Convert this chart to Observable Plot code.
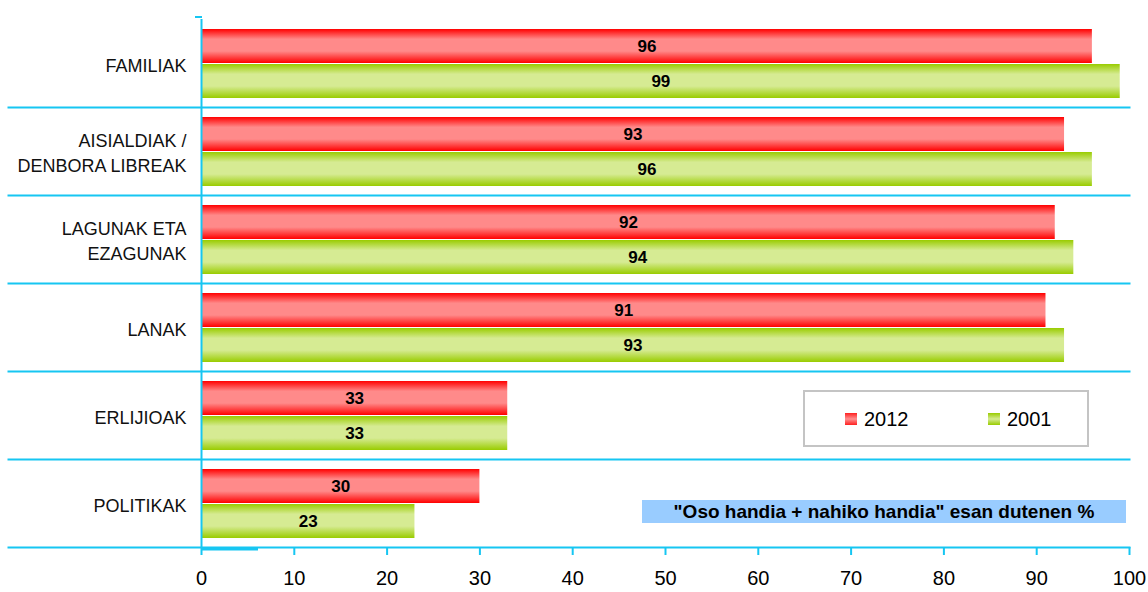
<!DOCTYPE html>
<html>
<head>
<meta charset="utf-8">
<script src="https://cdn.jsdelivr.net/npm/d3@7"></script>
<script src="https://cdn.jsdelivr.net/npm/@observablehq/plot@0.6"></script>
<style>
  html, body { margin: 0; padding: 0; background: #fff; }
  #wrap { position: relative; width: 1148px; height: 592px; font-family: "Liberation Sans", Arial, sans-serif; }
  .legend { position: absolute; left: 803px; top: 390px; width: 286px; height: 57px; box-sizing: border-box;
            border: 2px solid #c4c4c4; background: #fff; }
  .legend .item { position: absolute; top: 15px; height: 24px; font-size: 20px; line-height: 24px; color: #000; display: flex; align-items: center; }
  .legend .sw { width: 12px; height: 12px; margin-right: 7px; }
  .note { position: absolute; left: 642px; top: 500px; width: 484px; height: 23px; background: #99ccff;
          font-weight: bold; font-size: 19px; color: #000; text-align: center; line-height: 24px; white-space: nowrap; }
</style>
</head>
<body>
<div id="wrap"></div>
<script>
const categories = ["FAMILIAK", "AISIALDIAK /\nDENBORA LIBREAK", "LAGUNAK ETA\nEZAGUNAK", "LANAK", "ERLIJIOAK", "POLITIKAK"];
const years = ["2012", "2001"];
const values2012 = [96, 93, 92, 91, 33, 30];
const values2001 = [99, 96, 94, 93, 33, 23];
const xTicks = [0, 10, 20, 30, 40, 50, 60, 70, 80, 90, 100];
const noteText = "\"Oso handia + nahiko handia\" esan dutenen %";

const data = [];
categories.forEach((c, i) => {
  data.push({cat: c, year: "2012", value: values2012[i]});
  data.push({cat: c, year: "2001", value: values2001[i]});
});

const cyan = "#16c6f2";
const fills = {"2012": "url(#gRed)", "2001": "url(#gGreen)"};

const chart = Plot.plot({
  width: 1148,
  height: 592,
  marginLeft: 201,
  marginRight: 19,
  marginTop: 17,
  marginBottom: 44,
  style: {fontFamily: "Liberation Sans, Arial, sans-serif", background: "#fff"},
  x: {domain: [0, 100], ticks: xTicks},
  y: {domain: years, paddingInner: 0.04, paddingOuter: 0.25, axis: null},
  fy: {domain: categories, padding: 0, axis: null},
  marks: [
    Plot.frame({anchor: "bottom", stroke: cyan, strokeWidth: 2, insetLeft: -193}),
    Plot.barX(data, {fy: "cat", y: "year", x: "value", fill: d => fills[d.year]}),
    Plot.text(data, {fy: "cat", y: "year", x: d => d.value / 2, text: d => String(d.value),
      fontWeight: "bold", fontSize: 17, fill: "#000"}),
    Plot.text(categories, {fy: d => d, text: d => d, frameAnchor: "left", textAnchor: "end", dx: -15,
      fontSize: 18, fill: "#111", lineHeight: 1.39}),
    Plot.ruleX([0], {stroke: cyan, strokeWidth: 2}),
    Plot.axisX({ticks: xTicks, tickSize: 8, tickPadding: 15, stroke: cyan, strokeWidth: 2, fontSize: 20, color: "#000", tickFormat: d => String(d), label: null})
  ]
});

// gradients
const svg = d3.select(chart);
const defs = svg.insert("defs", ":first-child");
function grad(id, edge, mid) {
  const g = defs.append("linearGradient").attr("id", id).attr("x1", 0).attr("y1", 0).attr("x2", 0).attr("y2", 1);
  g.append("stop").attr("offset", "0%").attr("stop-color", edge);
  g.append("stop").attr("offset", "30%").attr("stop-color", mid);
  g.append("stop").attr("offset", "65%").attr("stop-color", mid);
  g.append("stop").attr("offset", "100%").attr("stop-color", edge);
}
grad("gRed", "#ff0000", "#ff8a8a");
grad("gGreen", "#99cc00", "#d6eb93");
// top tick of y axis and small thick segment at the base
svg.append("line").attr("x1", 195).attr("x2", 202).attr("y1", 17).attr("y2", 17).attr("stroke", cyan).attr("stroke-width", 2);
svg.append("line").attr("x1", 201).attr("x2", 258).attr("y1", 549).attr("y2", 549).attr("stroke", cyan).attr("stroke-width", 3);

const wrap = document.getElementById("wrap");
wrap.appendChild(chart);

const legend = document.createElement("div");
legend.className = "legend";
legend.innerHTML =
  '<div class="item" style="left:40px"><div class="sw" style="background:linear-gradient(#ff2020,#ff9090,#ff2020)"></div>' + years[0] + '</div>' +
  '<div class="item" style="left:183px"><div class="sw" style="background:linear-gradient(#99cc00,#d6eb93,#99cc00)"></div>' + years[1] + '</div>';
wrap.appendChild(legend);

const note = document.createElement("div");
note.className = "note";
note.textContent = noteText;
wrap.appendChild(note);
</script>
</body>
</html>
